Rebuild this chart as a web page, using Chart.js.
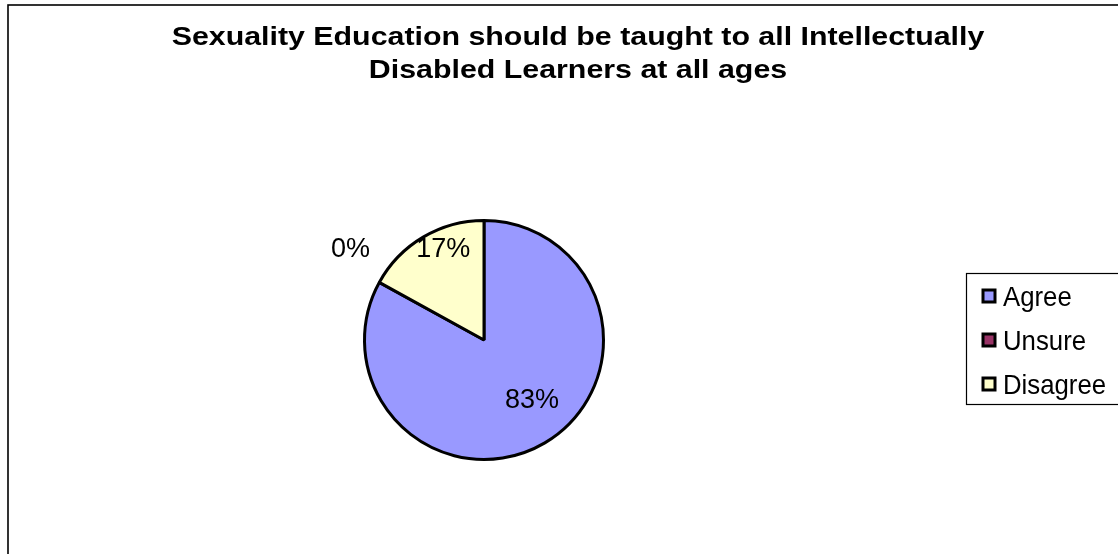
<!DOCTYPE html>
<html>
<head>
<meta charset="utf-8">
<script src="https://cdn.jsdelivr.net/npm/chart.js@4/dist/chart.umd.min.js"></script>
<style>
  html, body { margin: 0; padding: 0; background: #ffffff; }
  canvas { display: block; }
</style>
</head>
<body>
<canvas id="chart" width="1118" height="554"></canvas>
<script>
// Survey answers, in percent
const titleLines = [
  'Sexuality Education should be taught to all Intellectually',
  'Disabled Learners at all ages'
];
const categories = ['Agree', 'Unsure', 'Disagree'];
const percentages = [83, 0, 17];
const sliceColors = ['#9999FF', '#993366', '#FFFFCC'];

const FONT = "'Liberation Sans', Arial, Helvetica, sans-serif";

// Where each percentage label sits, relative to its slice (radius fraction, angle nudge in degrees)
const labelPlacement = [
  { r: 0.63, da: -9 },
  { r: 1.36, da: 6 },
  { r: 0.85, da: 7 }
];

// Draw text with a horizontal stretch factor around an anchor
function drawScaledText(ctx, text, x, y, sx, align) {
  ctx.save();
  ctx.translate(x, y);
  ctx.scale(sx, 1);
  ctx.textAlign = align;
  ctx.fillText(text, 0, 0);
  ctx.restore();
}

// Outer frame and title
const framePlugin = {
  id: 'frame',
  beforeDraw(chart) {
    const ctx = chart.ctx;
    ctx.save();
    ctx.fillStyle = '#ffffff';
    ctx.fillRect(0, 0, chart.width, chart.height);
    ctx.strokeStyle = '#000000';
    ctx.lineWidth = 1.6;
    ctx.strokeRect(8, 5, chart.width + 50, chart.height + 50);
    ctx.fillStyle = '#000000';
    ctx.font = 'bold 25.5px ' + FONT;
    ctx.textBaseline = 'alphabetic';
    drawScaledText(ctx, titleLines[0], 578, 45, 1.19, 'center');
    drawScaledText(ctx, titleLines[1], 578, 78, 1.19, 'center');
    ctx.restore();
  }
};

// Percentage labels on the slices (digits centred on the anchor point)
const sliceLabelPlugin = {
  id: 'sliceLabels',
  afterDatasetsDraw(chart) {
    const ctx = chart.ctx;
    const meta = chart.getDatasetMeta(0);
    const values = chart.data.datasets[0].data;
    const size = 27;
    ctx.save();
    ctx.fillStyle = '#000000';
    ctx.font = size + 'px ' + FONT;
    ctx.textAlign = 'center';
    ctx.textBaseline = 'alphabetic';
    meta.data.forEach((arc, i) => {
      const p = arc.getProps(['x', 'y', 'startAngle', 'endAngle', 'outerRadius'], true);
      const place = labelPlacement[i];
      const a = (p.startAngle + p.endAngle) / 2 + place.da * Math.PI / 180;
      const r = p.outerRadius * place.r;
      ctx.fillText(values[i] + '%', p.x + Math.cos(a) * r, p.y + Math.sin(a) * r + size * 0.358);
    });
    ctx.restore();
  }
};

// Boxed legend on the right
const boxLegendPlugin = {
  id: 'boxLegend',
  afterDraw(chart) {
    const ctx = chart.ctx;
    const ds = chart.data.datasets[0];
    ctx.save();
    ctx.fillStyle = '#ffffff';
    ctx.fillRect(966.5, 273.5, 200, 131);
    ctx.strokeStyle = '#000000';
    ctx.lineWidth = 1.2;
    ctx.strokeRect(966.5, 273.5, 200, 131);
    ctx.font = '28px ' + FONT;
    ctx.textBaseline = 'alphabetic';
    chart.data.labels.forEach((label, i) => {
      const cy = 296.5 + i * 44;
      ctx.fillStyle = ds.backgroundColor[i];
      ctx.fillRect(983, cy - 6.5, 12, 12);
      ctx.lineWidth = 3;
      ctx.strokeStyle = '#000000';
      ctx.strokeRect(983, cy - 6.5, 12, 12);
      ctx.fillStyle = '#000000';
      drawScaledText(ctx, label, 1003, cy + 9, 0.92, 'left');
    });
    ctx.restore();
  }
};

new Chart(document.getElementById('chart'), {
  type: 'pie',
  data: {
    labels: categories,
    datasets: [{
      data: percentages,
      backgroundColor: sliceColors,
      borderColor: '#000000',
      borderWidth: 3
    }]
  },
  options: {
    responsive: false,
    animation: false,
    events: [],
    layout: { padding: { left: 363, right: 513, top: 219, bottom: 93 } },
    plugins: {
      legend: { display: false },
      title: { display: false },
      tooltip: { enabled: false }
    }
  },
  plugins: [framePlugin, sliceLabelPlugin, boxLegendPlugin]
});
</script>
</body>
</html>
